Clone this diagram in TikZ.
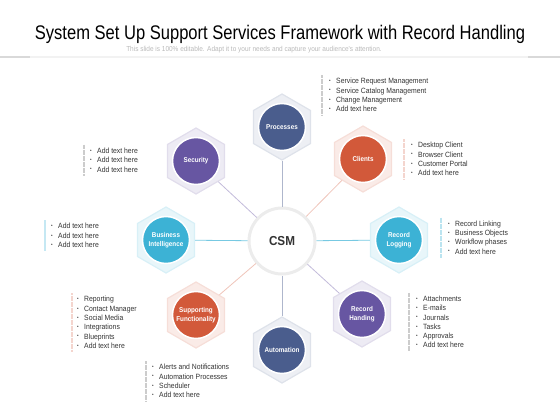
\documentclass[tikz,border=0pt]{standalone}
\usepackage{fontspec}
\setmainfont{Liberation Sans}
\newfontfamily\titlefont[FakeStretch=0.84]{Liberation Sans}
\newfontfamily\narrowfont[FakeStretch=0.9]{Liberation Sans}
\usetikzlibrary{shapes.geometric, backgrounds}
\definecolor{navy}{HTML}{4A5D8D}
\definecolor{rust}{HTML}{D2593A}
\definecolor{sky}{HTML}{3CB2D5}
\definecolor{grape}{HTML}{6756A2}
\definecolor{ink}{HTML}{333333}
\newcommand{\itm}[1]{\makebox[7pt][l]{\raisebox{0.3ex}{\fontsize{5}{5}\selectfont\textbullet}}#1}

\tikzset{
  hexa/.style={regular polygon, regular polygon sides=6, shape border rotate=30,
    minimum size=66pt, inner sep=0pt, line width=1.2pt},
  disc/.style={circle, minimum size=47pt, inner sep=0pt, draw=white, line width=1.5pt,
    text=white, font=\narrowfont\bfseries\fontsize{7}{8.5}\selectfont, align=center},
  list/.style={anchor=west, inner xsep=0pt, inner ysep=3pt, align=left, text=ink,
    font=\narrowfont\fontsize{7.6}{9.3}\selectfont},
  bar/.style={dash pattern=on 0.6pt off 0.6pt, line width=1.5pt},
  link/.style={line width=0.8pt},
}

\begin{document}
\begin{tikzpicture}[x=1pt, y=-1pt]
  \useasboundingbox (0,0) rectangle (560,420);

  % title and subtitle
  \node[font=\titlefont\fontsize{19.7}{21}\selectfont] (title) at (280,34)
    {System Set Up Support Services Framework with Record Handling};
  \node[font=\narrowfont\fontsize{7.2}{8}\selectfont, text=gray!55] (sub) at (254,50)
    {This slide is 100\% editable. Adapt it to your needs and capture your audience's attention.};
  \draw[gray!10, line width=1.2pt] (30,57) -- (528,57);
  \draw[gray!30, line width=1.2pt] (0,57) -- (30,57);
  \draw[gray!30, line width=1.2pt] (528,57) -- (560,57);

  % hub
  \node[circle, minimum size=66pt, fill=white, draw=gray!15, line width=3pt,
    font=\narrowfont\bfseries\fontsize{13}{13}\selectfont, text=ink] (csm) at (282,241) {CSM};

  % hexagons
  \node[hexa, fill=navy!10, draw=navy!18] (hproc) at (282,127) {};
  \node[hexa, fill=rust!12, draw=rust!20] (hcli) at (363,159) {};
  \node[hexa, fill=sky!12, draw=sky!20] (hlog) at (399,240) {};
  \node[hexa, fill=grape!12, draw=grape!20] (hhand) at (362,314) {};
  \node[hexa, fill=navy!10, draw=navy!18] (hauto) at (282,350) {};
  \node[hexa, fill=rust!12, draw=rust!20] (hsupp) at (196,315) {};
  \node[hexa, fill=sky!12, draw=sky!20] (hbi) at (166,240) {};
  \node[hexa, fill=grape!12, draw=grape!20] (hsec) at (196,161) {};

  % circles
  \node[disc, fill=navy] (proc) at (hproc) {Processes};
  \node[disc, fill=rust] (cli) at (hcli) {Clients};
  \node[disc, fill=sky] (log) at (hlog) {Record\\Logging};
  \node[disc, fill=grape] (hand) at (hhand) {Record\\Handing};
  \node[disc, fill=navy] (auto) at (hauto) {Automation};
  \node[disc, fill=rust] (supp) at (hsupp) {Supporting\\Functionality};
  \node[disc, fill=sky] (bi) at (hbi) {Business\\Intelligence};
  \node[disc, fill=grape] (sec) at (hsec) {Security};

  % links from the hub
  \draw[link, navy!45] (csm) -- (hproc);
  \draw[link, rust!35] (csm) -- (hcli);
  \draw[link, sky!70] (csm) -- (hlog);
  \draw[link, grape!40] (csm) -- (hhand);
  \draw[link, navy!45] (csm) -- (hauto);
  \draw[link, rust!35] (csm) -- (hsupp);
  \draw[link, sky!70] (csm) -- (hbi);
  \draw[link, grape!40] (csm) -- (hsec);

  % lists
  \node[list] (lproc) at (329,95) {\itm{Service Request Management}\\\itm{Service Catalog Management}\\\itm{Change Management}\\\itm{Add text here}};
  \draw[bar, gray!40] ([xshift=-7]lproc.north west) -- ([xshift=-7]lproc.south west);

  \node[list] (lcli) at (411,159) {\itm{Desktop Client}\\\itm{Browser Client}\\\itm{Customer Portal}\\\itm{Add text here}};
  \draw[bar, rust!25] ([xshift=-7]lcli.north west) -- ([xshift=-7]lcli.south west);

  \node[list] (lsec) at (90,160) {\itm{Add text here}\\\itm{Add text here}\\\itm{Add text here}};
  \draw[bar, gray!40] ([xshift=-6]lsec.north west) -- ([xshift=-6]lsec.south west);

  \node[list] (lbi) at (51,235.5) {\itm{Add text here}\\\itm{Add text here}\\\itm{Add text here}};
  \draw[sky!30, line width=1.5pt] ([xshift=-6]lbi.north west) -- ([xshift=-6]lbi.south west);

  \node[list] (llog) at (448,237.5) {\itm{Record Linking}\\\itm{Business Objects}\\\itm{Workflow phases}\\\itm{Add text here}};
  \draw[bar, sky!35] ([xshift=-7]llog.north west) -- ([xshift=-7]llog.south west);

  \node[list] (lsupp) at (77,322.5) {\itm{Reporting}\\\itm{Contact Manager}\\\itm{Social Media}\\\itm{Integrations}\\\itm{Blueprints}\\\itm{Add text here}};
  \draw[bar, rust!25] ([xshift=-5]lsupp.north west) -- ([xshift=-5]lsupp.south west);

  \node[list] (lauto) at (152,381) {\itm{Alerts and Notifications}\\\itm{Automation Processes}\\\itm{Scheduler}\\\itm{Add text here}};
  \draw[bar, gray!40] ([xshift=-6]lauto.north west) -- ([xshift=-6]lauto.south west);

  \node[list] (lhand) at (416,322) {\itm{Attachments}\\\itm{E-mails}\\\itm{Journals}\\\itm{Tasks}\\\itm{Approvals}\\\itm{Add text here}};
  \draw[bar, gray!40] ([xshift=-7]lhand.north west) -- ([xshift=-7]lhand.south west);
\end{tikzpicture}
\end{document}
